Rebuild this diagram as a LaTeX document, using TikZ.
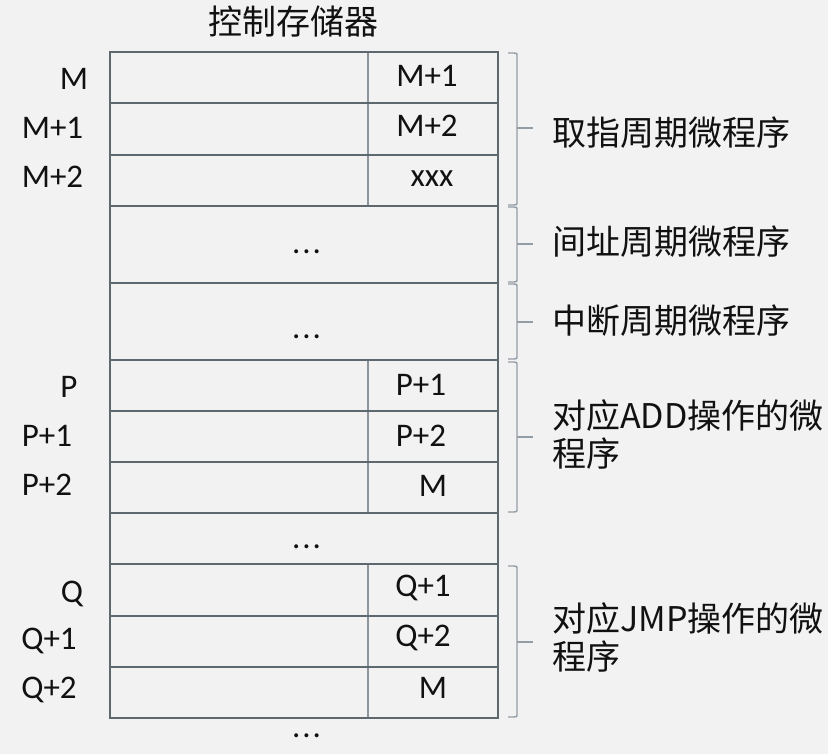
\documentclass[tikz,border=0pt]{standalone}
\usepackage{fontspec}
\setmainfont{Carlito}
\newfontfamily\cjk{Noto Sans CJK SC}
\definecolor{bgc}{HTML}{F2F2F2}
\definecolor{tlinec}{HTML}{5E696F}
\definecolor{dlinec}{HTML}{8C969C}
\definecolor{blinec}{HTML}{939DA5}
\definecolor{txtc}{HTML}{111111}
\newcommand\mybrace[3]{%
  \draw[tbrace] (508,#1) -- (514,#1) .. controls (517,#1) and (517,#1) .. (517,#1+4)
    -- (517,#2-4) .. controls (517,#2) and (517,#2) .. (514,#2) -- (508,#2);
  \draw[tbrace] (517,#3) -- (533,#3);}
\begin{document}
\begin{tikzpicture}[x=1pt,y=-1pt,
  lab/.style={inner sep=0pt, font=\fontsize{33}{40}\selectfont, text=txtc},
  dots/.style={inner sep=0pt, font=\fontsize{33}{40}\selectfont, text=txtc},
  cjklab/.style={inner sep=0pt, font=\cjk\fontsize{34}{38}\selectfont, text=txtc, align=left, anchor=west},
  cell/.style={draw=tlinec, line width=2.6pt, minimum width=388pt, inner sep=0pt, outer sep=0pt},
  tdiv/.style={draw=dlinec, line width=1.4pt},
  tbrace/.style={draw=blinec, line width=1.4pt}]
\fill[bgc] (0,0) rectangle (828,754);
\useasboundingbox (0,0) rectangle (828,754);
\coordinate (dv) at (368,0);
% dividers
\draw[tdiv] (368,52) -- (368,206);
\draw[tdiv] (368,360) -- (368,513);
\draw[tdiv] (368,564) -- (368,718);
% rows
\node[cell, minimum height=51pt] (r1) at (304,77.5) {};
\node[cell, minimum height=52pt] (r2) at (304,129) {};
\node[cell, minimum height=51pt] (r3) at (304,180.5) {};
\node[cell, minimum height=77pt] (r4) at (304,244.5) {};
\node[cell, minimum height=77pt] (r5) at (304,321.5) {};
\node[cell, minimum height=51pt] (r6) at (304,385.5) {};
\node[cell, minimum height=51pt] (r7) at (304,436.5) {};
\node[cell, minimum height=51pt] (r8) at (304,487.5) {};
\node[cell, minimum height=51pt] (r9) at (304,538.5) {};
\node[cell, minimum height=52pt] (r10) at (304,590) {};
\node[cell, minimum height=51pt] (r11) at (304,641.5) {};
\node[cell, minimum height=51pt] (r12) at (304,692.5) {};
% title
\node[cjklab, anchor=center] (title) at (293,22) {控制存储器};
% left addresses
\node[lab] (aM) at (74,79) {M};
\node[lab] (aM1) at (52.5,128) {M+1};
\node[lab] (aM2) at (52.5,176.5) {M+2};
\node[lab] (aP) at (69,387) {P};
\node[lab] (aP1) at (47,436) {P+1};
\node[lab] (aP2) at (47,485) {P+2};
\node[lab] (aQ) at (72,594) {Q};
\node[lab] (aQ1) at (49,641) {Q+1};
\node[lab] (aQ2) at (49,690) {Q+2};
% next addresses
\node[lab] (nM1) at (427,76) {M+1};
\node[lab] (nM2) at (427,126) {M+2};
\node[lab] (nX) at (432,179) {xxx};
\node[lab] (nP1) at (421,385) {P+1};
\node[lab] (nP2) at (421,436) {P+2};
\node[lab] (nPM) at (433,486) {M};
\node[lab] (nQ1) at (423,588) {Q+1};
\node[lab] (nQ2) at (423,638) {Q+2};
\node[lab] (nQM) at (433,688) {M};
% dots
\node[dots] (d1) at (306.5,252) {.\kern2pt.\kern2pt.};
\node[dots] (d2) at (306.5,337) {.\kern2pt.\kern2pt.};
\node[dots] (d3) at (306.5,547) {.\kern2pt.\kern2pt.};
\node[dots] (d4) at (306.5,736) {.\kern2pt.\kern2pt.};
% braces
\mybrace{53}{205}{128}
\mybrace{207}{282}{244}
\mybrace{284}{359}{322}
\mybrace{362}{512}{437}
\mybrace{566}{717}{642}
% labels
\node[cjklab] (g1) at (552,132.5) {取指周期微程序};
\node[cjklab] (g2) at (552,242) {间址周期微程序};
\node[cjklab] (g3) at (552,321) {中断周期微程序};
\node[cjklab] (g4) at (552,434) {对应ADD操作的微\\程序};
\node[cjklab] (g5) at (552,637) {对应JMP操作的微\\程序};
\end{tikzpicture}
\end{document}
